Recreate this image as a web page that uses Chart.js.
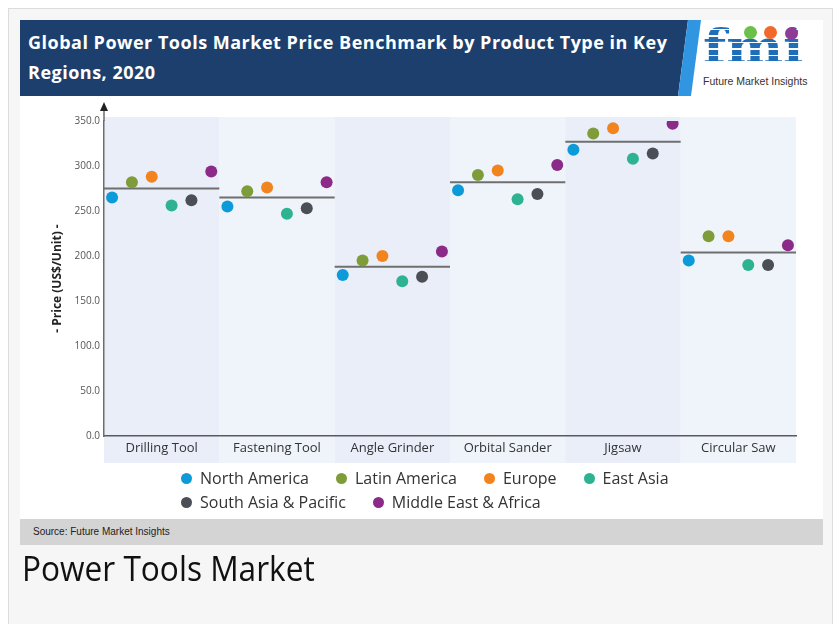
<!DOCTYPE html>
<html>
<head>
<meta charset="utf-8">
<script src="https://cdn.jsdelivr.net/npm/chart.js@4.4.1/dist/chart.umd.min.js"></script>
<style>
  html, body { margin: 0; padding: 0; background: #fff; }
  body { width: 836px; height: 624px; position: relative; overflow: hidden; font-family: "Open Sans", sans-serif; }
  .tarjeta { position: absolute; left: 8px; top: 8px; width: 825px; height: 640px; background: #f6f6f6; border: 1px solid #dcdcdc; box-sizing: border-box; }
  .figura { position: absolute; left: 20px; top: 20px; width: 803px; height: 525px; background: #fff; }
  .banda-titulo { position: absolute; left: 0; top: 0; width: 680px; height: 76px; background: #1c3f6e;
    clip-path: polygon(0 0, 668px 0, 658px 76px, 0 76px); }
  .franja { position: absolute; left: 0; top: 0; width: 690px; height: 76px; background: #3196e2;
    clip-path: polygon(668px 0, 681px 0, 671px 76px, 658px 76px); }
  .titulo { position: absolute; left: 8px; top: 7px; color: #fff; font-weight: bold; font-size: 18px; letter-spacing: 0.5px; line-height: 30px; }
  .logo { position: absolute; left: 683px; top: 4px; font-family: "DejaVu Serif", serif; font-weight: bold; font-size: 46px; line-height: 46px;
    transform: scaleX(1.17); transform-origin: left top;
    background: repeating-linear-gradient(#1f6fb8 0 5px, #fff 5px 6.5px); -webkit-background-clip: text; background-clip: text; color: transparent; }
  .circulo { position: absolute; width: 13px; height: 13px; border-radius: 50%; }
  .logo-texto { position: absolute; left: 683px; top: 54px; font-family: "Liberation Sans Narrow", "Liberation Sans", sans-serif; font-size: 10.5px; line-height: 14px; color: #333; }
  #grafico-wrap { position: absolute; left: 0; top: 76px; width: 803px; height: 372px; }
  .leyenda { position: absolute; left: 161px; top: 446px; width: 560px; display: flex; flex-wrap: wrap; }
  .item { display: flex; align-items: center; margin-right: 27px; height: 24px; font-size: 16px; color: #333; }
  .item span.punto { width: 11px; height: 11px; border-radius: 50%; margin-right: 8px; }
  .fuente { position: absolute; left: 0; top: 499px; width: 803px; height: 26px; background: #d4d4d4;
    font-family: "Liberation Sans Narrow", "Liberation Sans", sans-serif; font-size: 10px; line-height: 26px; color: #222; padding-left: 13px; box-sizing: border-box; }
  .pie { position: absolute; left: 22px; top: 546px; font-size: 34px; line-height: 44px; color: #111; transform: scaleX(0.93); transform-origin: left top; }
</style>
</head>
<body>
<div class="tarjeta"></div>
<div class="figura">
  <div class="banda-titulo"></div>
  <div class="franja"></div>
  <div class="titulo">Global Power Tools Market Price Benchmark by Product Type in Key<br>Regions, 2020</div>
  <div class="logo">fmi</div>
  <div class="circulo" style="left:724px; top:6px; background:#6cbf4a;"></div>
  <div class="circulo" style="left:744px; top:6px; background:#f26a2b;"></div>
  <div class="circulo" style="left:765px; top:7px; background:#8e3c96;"></div>
  <div class="logo-texto">Future Market Insights</div>
  <div id="grafico-wrap"><canvas id="grafico"></canvas></div>
  <div class="leyenda" id="leyenda"></div>
  <div class="fuente">Source: Future Market Insights</div>
</div>
<div class="pie">Power Tools Market</div>

<script>
// Datos (US$/unidad, 2020)
const categorias = ["Drilling Tool", "Fastening Tool", "Angle Grinder", "Orbital Sander", "Jigsaw", "Circular Saw"];
const regiones = ["North America", "Latin America", "Europe", "East Asia", "South Asia & Pacific", "Middle East & Africa"];
const coloresRegion = ["#0c9bd8", "#7e9d3a", "#f2841f", "#2db391", "#4b4e55", "#8b2a88"];

const northAmerica = [265, 255, 179, 273, 318, 195];
const latinAmerica = [282, 272, 195, 290, 336, 222];
const europe = [288, 276, 200, 295, 342, 222];
const eastAsia = [256, 247, 172, 263, 308, 190];
const southAsiaPacific = [262, 253, 177, 269, 314, 190];
const middleEastAfrica = [294, 282, 205, 301, 347, 212];
const benchmark = [275, 265, 188, 282, 327, 204];

const yTicks = [0, 50, 100, 150, 200, 250, 300, 350];

const valoresRegion = [northAmerica, latinAmerica, europe, eastAsia, southAsiaPacific, middleEastAfrica];

// separación de los puntos dentro de cada categoría
const paso = 0.172;

const datasets = regiones.map((region, r) => ({
  type: 'scatter',
  label: region,
  data: valoresRegion[r].map((v, c) => ({ x: c + 0.5 + (r - 2.5) * paso, y: v })),
  pointRadius: 6,
  pointHoverRadius: 6,
  pointBackgroundColor: coloresRegion[r],
  pointBorderWidth: 0,
  backgroundColor: coloresRegion[r],
  order: 1
}));

// línea de referencia por categoría (con cortes entre categorías)
const lineaData = [];
benchmark.forEach((v, c) => {
  lineaData.push({ x: c, y: v });
  lineaData.push({ x: c + 1, y: v });
  lineaData.push({ x: c + 1, y: null });
});
datasets.push({
  type: 'line',
  label: 'Benchmark',
  data: lineaData,
  borderColor: '#6f6f6f',
  borderWidth: 2,
  pointRadius: 0,
  spanGaps: false,
  order: 2
});

// fondos alternos de las categorías
const fondosPlugin = {
  id: 'fondos',
  beforeDraw(chart) {
    const { ctx, chartArea, scales } = chart;
    const x = scales.x;
    ctx.save();
    categorias.forEach((c, i) => {
      ctx.fillStyle = i % 2 === 0 ? '#e9eef8' : '#eef4f9';
      const x0 = x.getPixelForValue(i);
      const x1 = x.getPixelForValue(i + 1);
      ctx.fillRect(x0, chartArea.top - 4, x1 - x0, chartArea.bottom - chartArea.top + 31);
    });
    ctx.restore();
  }
};

// flecha del eje Y
const flechaPlugin = {
  id: 'flecha',
  afterDraw(chart) {
    const { ctx, chartArea } = chart;
    const x0 = chartArea.left;
    ctx.save();
    ctx.strokeStyle = '#6d6d6d';
    ctx.lineWidth = 1.5;
    ctx.beginPath();
    ctx.moveTo(x0, chartArea.top);
    ctx.lineTo(x0, chartArea.top - 12);
    ctx.stroke();
    ctx.fillStyle = '#222';
    ctx.beginPath();
    ctx.moveTo(x0, chartArea.top - 19);
    ctx.lineTo(x0 - 4, chartArea.top - 10);
    ctx.lineTo(x0 + 4, chartArea.top - 10);
    ctx.closePath();
    ctx.fill();
    ctx.restore();
  }
};

const grafico = new Chart(document.getElementById('grafico').getContext('2d'), {
  type: 'scatter',
  data: { datasets },
  options: {
    responsive: true,
    maintainAspectRatio: false,
    animation: false,
    layout: { padding: { left: 0, right: 27, top: 25, bottom: 0 } },
    plugins: {
      legend: { display: false },
      tooltip: { enabled: false }
    },
    scales: {
      x: {
        type: 'linear',
        min: 0,
        max: categorias.length,
        grid: { display: false, drawTicks: false },
        border: { display: true, color: '#5a5a5a', width: 1.5 },
        afterBuildTicks: scale => { scale.ticks = categorias.map((c, i) => ({ value: i + 0.5 })); },
        afterFit: scale => { scale.height = 32; },
        ticks: {
          autoSkip: false,
          maxRotation: 0,
          padding: 4,
          color: '#333',
          font: { family: 'Open Sans', size: 13 },
          callback: v => categorias[Math.floor(v)]
        }
      },
      y: {
        min: 0,
        max: 350,
        grid: { display: false, drawTicks: false },
        border: { display: true, color: '#6d6d6d', width: 1.5 },
        afterBuildTicks: scale => { scale.ticks = yTicks.map(v => ({ value: v })); },
        afterFit: scale => { scale.width = 84; },
        ticks: {
          padding: 4,
          color: '#555',
          font: { family: 'Open Sans', size: 10 },
          callback: v => v.toFixed(1)
        },
        title: {
          display: true,
          text: '- Price (US$/Unit) -',
          color: '#222',
          font: { family: 'Open Sans', size: 12, weight: 'bold' },
          padding: { top: 30, bottom: 0 }
        }
      }
    }
  },
  plugins: [fondosPlugin, flechaPlugin]
});

// leyenda HTML a partir de los datasets
const leyenda = document.getElementById('leyenda');
regiones.forEach((region, r) => {
  const item = document.createElement('div');
  item.className = 'item';
  const punto = document.createElement('span');
  punto.className = 'punto';
  punto.style.background = coloresRegion[r];
  const texto = document.createElement('span');
  texto.textContent = region;
  item.appendChild(punto);
  item.appendChild(texto);
  leyenda.appendChild(item);
});
</script>
</body>
</html>
